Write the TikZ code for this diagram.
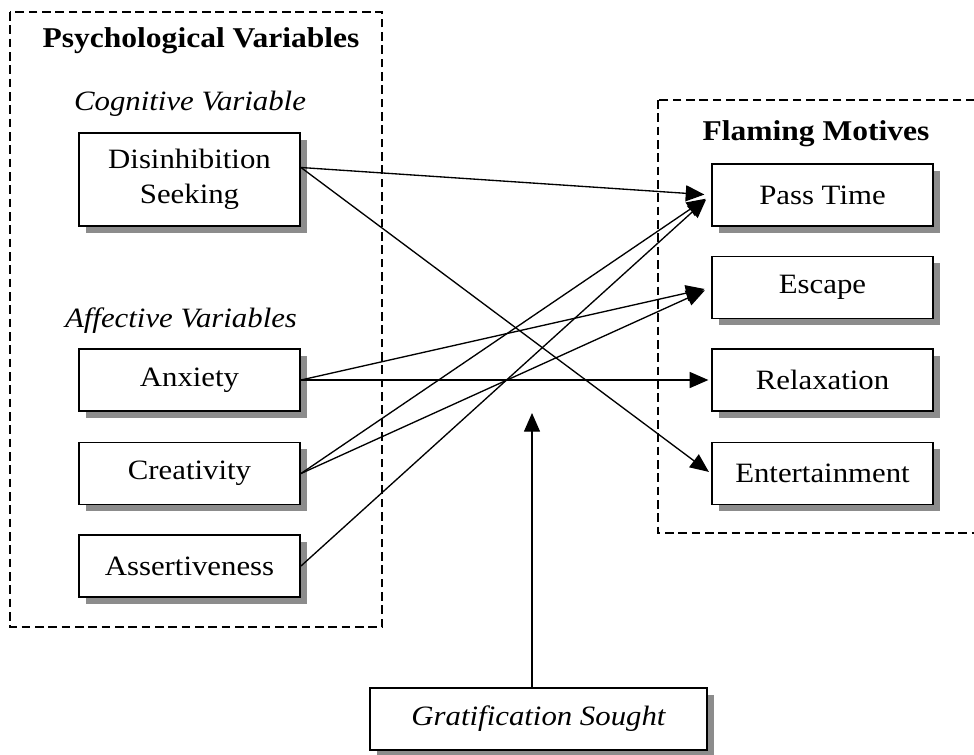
\documentclass[tikz,border=0pt]{standalone}
\usepackage{fontspec}
\setmainfont[FakeStretch=1.1]{Liberation Serif}
\usetikzlibrary{arrows.meta,shadows}
\begin{document}
\begin{tikzpicture}[x=0.75pt,y=-0.75pt,
    font=\fontsize{21}{26}\selectfont,
    box/.style={draw,line width=1.2pt,fill=white,minimum width=166pt,minimum height=46.5pt,
      inner sep=0pt,align=center,
      drop shadow={shadow xshift=5pt,shadow yshift=-5pt,fill=black!45,opacity=1}},
    grp/.style={draw,line width=0.8pt,dash pattern=on 6.5pt off 3.5pt},
    arr/.style={line width=1pt,-{Triangle[length=14pt,width=12pt]},shorten >=2pt}]
      \clip (0,0) rectangle (974,754);

      \draw[grp] (10,12) rectangle (382,627);
      \draw[grp] (658,100) rectangle (990,533);

      \node[anchor=base,font=\fontsize{21.5}{26}\selectfont\bfseries] (psy) at (201,47) {Psychological Variables};
      \node[anchor=base,font=\fontsize{21}{26}\selectfont\itshape] (cog) at (190,110) {Cognitive Variable};
      \node[anchor=base,font=\fontsize{21}{26}\selectfont\itshape] (aff) at (181,327) {Affective Variables};
      \node[anchor=base,font=\fontsize{21.5}{26}\selectfont\bfseries] (fm) at (816,140) {Flaming Motives};

      \node[box,minimum height=70pt] (dis) at (189.5,179.5) {Disinhibition\\Seeking};
      \node[box] (anx) at (189.5,380) {Anxiety};
      \node[box] (cre) at (189.5,473.5) {Creativity};
      \node[box] (ass) at (189.5,566) {Assertiveness};

      \node[box] (pt) at (822.5,195) {Pass Time};
      \node[box] (esc) at (822.5,287.5) {Escape};
      \node[box] (rel) at (822.5,380) {Relaxation};
      \node[box] (ent) at (822.5,473.5) {Entertainment};

      \node[box,minimum width=253pt,font=\fontsize{21}{26}\selectfont\itshape] (gs) at (538.5,719) {Gratification Sought};

      \draw[arr,shorten >=5pt] ([yshift=9pt]dis.east) -- (pt.west);
      \draw[arr] ([yshift=9pt]dis.east) -- (ent.west);
      \draw[arr,shorten >=5pt] (anx.east) -- (esc.west);
      \draw[arr] (anx.east) -- (rel.west);
      \draw[arr,shorten >=5pt] (cre.east) -- (pt.west);
      \draw[arr,shorten >=5pt] (cre.east) -- (esc.west);
      \draw[arr,shorten >=5pt] (ass.east) -- (pt.west);

      \coordinate (gtip) at (532,413);
      \draw[arr,shorten >=0pt] (gs.north -| gtip) -- (gtip);
    \end{tikzpicture}
\end{document}
